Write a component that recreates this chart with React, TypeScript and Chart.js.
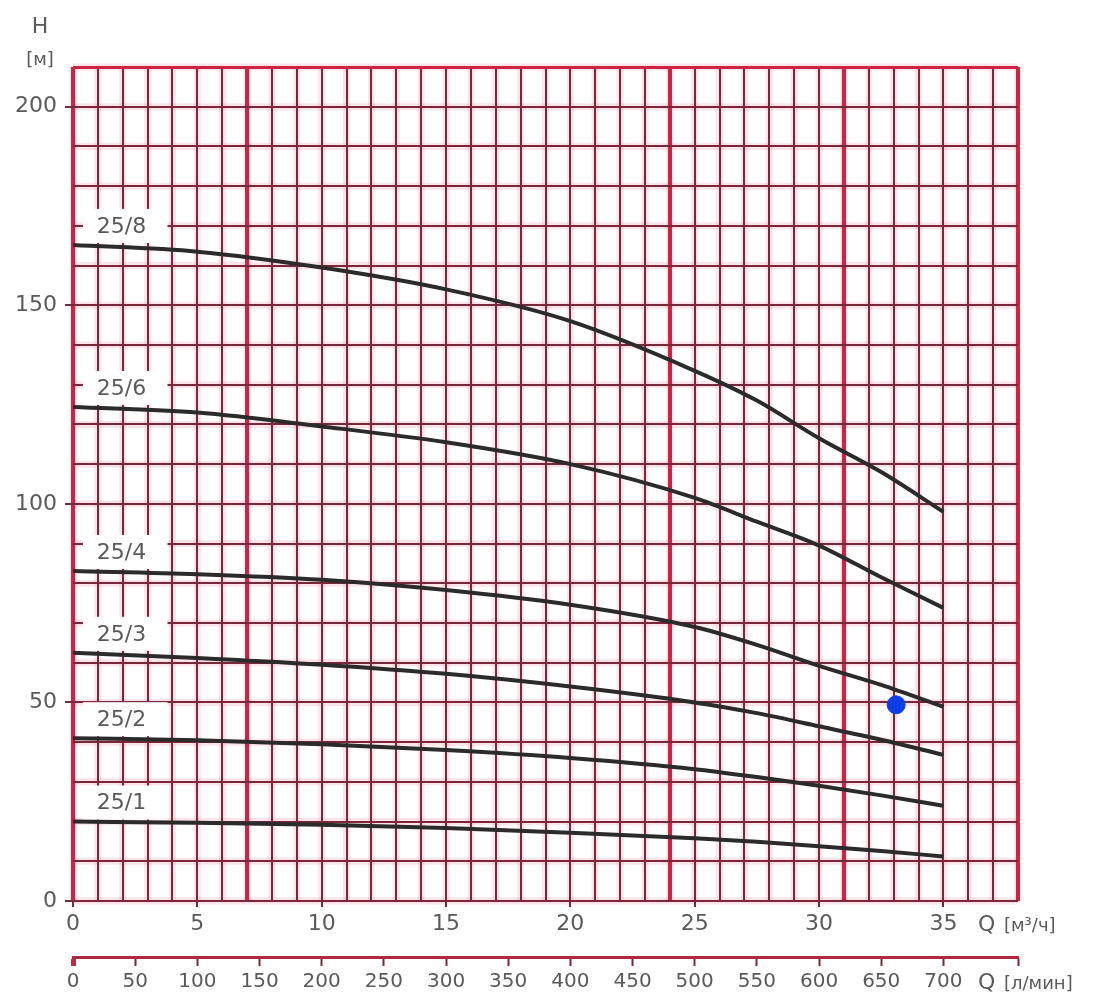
import React, { useEffect, useRef } from 'react';
import { Chart, registerables } from 'chart.js';

Chart.register(...registerables);

// Flow rate, m³/h
const flowRates = [0, 5, 10, 15, 20, 25, 27.5, 30, 32.5, 35];

// Head curves, m
const head25_8 = [165.2, 163.5, 159.5, 154, 146, 133.5, 126, 116.5, 108, 98];
const head25_6 = [124.4, 123, 119.5, 115.5, 110, 101.5, 95.5, 89.5, 81.5, 73.8];
const head25_4 = [83.1, 82.3, 80.9, 78.3, 74.6, 69, 64.5, 59.2, 54.4, 48.9];
const head25_3 = [62.5, 61.2, 59.5, 57.2, 54, 50, 47.3, 44, 40.6, 36.8];
const head25_2 = [41, 40.5, 39.5, 38, 36, 33.2, 31.2, 29, 26.6, 24];
const head25_1 = [20, 19.7, 19.2, 18.4, 17.2, 15.8, 14.9, 13.8, 12.6, 11.2];

const curveNames = ['25/8', '25/6', '25/4', '25/3', '25/2', '25/1'];
const curveHeads = [head25_8, head25_6, head25_4, head25_3, head25_2, head25_1];

// Duty point
const dutyFlow = [33.1];
const dutyHead = [49.4];

// Axis ranges and ticks
const flowMax = 38;
const headMax = 210;
const flowLabelStep = 5;
const headLabelStep = 50;
const litresMax = 760;
const litresLabelMax = 700;
// Heavier vertical rules
const heavyFlowLines = [0, 7, 24, 31, 38];

const FONT = '"DejaVu Sans", sans-serif';
const TEXT = '#5a5a5a';
const GRID = 'rgb(120, 40, 56)';
const HEAVY = 'rgb(204, 36, 66)';

const glowPlugin = {
  id: 'gridGlow',
  beforeDraw(chart: any) {
    const { ctx, chartArea, scales } = chart;
    const x = scales.x;
    const y = scales.y;
    ctx.save();
    ctx.strokeStyle = 'rgba(240, 120, 150, 0.2)';
    ctx.lineWidth = 7;
    for (let v = 0; v <= flowMax; v += 1) {
      const px = x.getPixelForValue(v);
      ctx.beginPath();
      ctx.moveTo(px, chartArea.top);
      ctx.lineTo(px, chartArea.bottom);
      ctx.stroke();
    }
    for (let v = 0; v <= headMax; v += 10) {
      const py = y.getPixelForValue(v);
      ctx.beginPath();
      ctx.moveTo(chartArea.left, py);
      ctx.lineTo(chartArea.right, py);
      ctx.stroke();
    }
    ctx.restore();
  },
};

const curveLabelPlugin = {
  id: 'curveLabels',
  beforeDatasetsDraw(chart: any) {
    const { ctx, scales } = chart;
    const x = scales.x;
    const y = scales.y;
    ctx.save();
    curveNames.forEach((name, i) => {
      const base = y.getPixelForValue(curveHeads[i][0]);
      const left = x.getPixelForValue(0.4);
      const right = x.getPixelForValue(3.8);
      ctx.fillStyle = '#ffffff';
      ctx.fillRect(left, base - 36, right - left, 34);
      ctx.fillStyle = TEXT;
      ctx.font = `22px ${FONT}`;
      ctx.textAlign = 'center';
      ctx.textBaseline = 'middle';
      ctx.fillText(name, x.getPixelForValue(1.95), base - 18);
    });
    ctx.restore();
  },
};

const axisTitlePlugin = {
  id: 'axisTitles',
  afterDraw(chart: any) {
    const { ctx, scales } = chart;
    const x = scales.x;
    const x2 = scales.x2;
    ctx.save();
    ctx.fillStyle = TEXT;
    ctx.textBaseline = 'middle';
    ctx.textAlign = 'center';
    ctx.font = `22px ${FONT}`;
    ctx.fillText('H', 40, 27);
    ctx.font = `18px ${FONT}`;
    ctx.fillText('[м]', 40, 60);

    const drawQ = (yPos: number, unit: string) => {
      ctx.textAlign = 'left';
      ctx.font = `22px ${FONT}`;
      const qx = x.right - 40;
      ctx.fillText('Q', qx, yPos);
      ctx.font = `18px ${FONT}`;
      ctx.fillText(unit, qx + 26, yPos + 1);
    };
    drawQ(925, '[м³/ч]');
    drawQ(x2.top + 26, '[л/мин]');
    ctx.restore();
  },
};

export default function App() {
  const canvasRef = useRef<HTMLCanvasElement | null>(null);

  useEffect(() => {
    document.body.style.margin = '0';
    const canvas = canvasRef.current;
    if (!canvas) return;

    const datasets: any[] = curveNames.map((name, i) => ({
      type: 'line',
      label: name,
      data: flowRates.map((q, j) => ({ x: q, y: curveHeads[i][j] })),
      borderColor: '#2b2b2b',
      borderWidth: 4,
      pointRadius: 0,
      cubicInterpolationMode: 'monotone',
      fill: false,
    }));
    datasets.push({
      type: 'scatter',
      label: 'duty',
      data: dutyFlow.map((q, i) => ({ x: q, y: dutyHead[i] })),
      backgroundColor: '#0b3de8',
      borderColor: '#0b3de8',
      pointRadius: 9,
      pointHoverRadius: 9,
    });

    const chart = new Chart(canvas, {
      type: 'line',
      data: { datasets },
      options: {
        responsive: false,
        animation: false,
        devicePixelRatio: 1,
        events: [],
        layout: { padding: { top: 67, right: 86, left: 0, bottom: 0 } },
        plugins: { legend: { display: false }, tooltip: { enabled: false } },
        scales: {
          x: {
            type: 'linear',
            position: 'bottom',
            weight: 0,
            min: 0,
            max: flowMax,
            afterFit: (s: any) => { s.height = 56; },
            ticks: {
              stepSize: 1,
              autoSkip: false,
              maxRotation: 0,
              padding: 4,
              color: TEXT,
              font: { family: FONT, size: 22 },
              callback: (v: any) => (v % flowLabelStep === 0 && v <= 35 ? String(v) : ''),
            },
            grid: {
              color: (c: any) => (heavyFlowLines.includes(c.tick?.value) ? HEAVY : GRID),
              lineWidth: (c: any) => (heavyFlowLines.includes(c.tick?.value) ? 4 : 2),
              tickLength: 6,
              tickColor: (c: any) =>
                c.tick && c.tick.value % flowLabelStep === 0 && c.tick.value <= 35 ? GRID : 'rgba(0,0,0,0)',
              tickWidth: 2,
            },
            border: { display: false },
          },
          x2: {
            type: 'linear',
            position: 'bottom',
            weight: 1,
            min: 0,
            max: litresMax,
            afterFit: (s: any) => { s.height = 41; },
            ticks: {
              stepSize: 50,
              autoSkip: false,
              maxRotation: 0,
              padding: 4,
              color: TEXT,
              font: { family: FONT, size: 20 },
              callback: (v: any) => (v <= litresLabelMax ? String(v) : ''),
            },
            grid: {
              drawOnChartArea: false,
              tickLength: 9,
              tickColor: (c: any) => (c.tick && c.tick.value === 0 ? HEAVY : GRID),
              tickWidth: (c: any) => (c.tick && c.tick.value === 0 ? 5 : 2),
            },
            border: { display: true, color: 'rgb(176, 40, 62)', width: 3 },
          },
          y: {
            type: 'linear',
            position: 'left',
            min: 0,
            max: headMax,
            afterFit: (s: any) => { s.width = 73; },
            ticks: {
              stepSize: 10,
              autoSkip: false,
              padding: 8,
              color: TEXT,
              font: { family: FONT, size: 22 },
              callback: (v: any) => (v % headLabelStep === 0 && v <= 200 ? String(v) : ''),
            },
            grid: {
              color: (c: any) => (c.tick?.value === headMax ? HEAVY : GRID),
              lineWidth: (c: any) => (c.tick?.value === headMax ? 3 : 2),
              tickLength: 8,
              tickColor: (c: any) =>
                c.tick && c.tick.value % headLabelStep === 0 && c.tick.value <= 200 ? GRID : 'rgba(0,0,0,0)',
              tickWidth: 2,
            },
            border: { display: false },
          },
        },
      },
      plugins: [glowPlugin, curveLabelPlugin, axisTitlePlugin],
    } as any);

    return () => chart.destroy();
  }, []);

  return <canvas ref={canvasRef} width={1104} height={998} />;
}
